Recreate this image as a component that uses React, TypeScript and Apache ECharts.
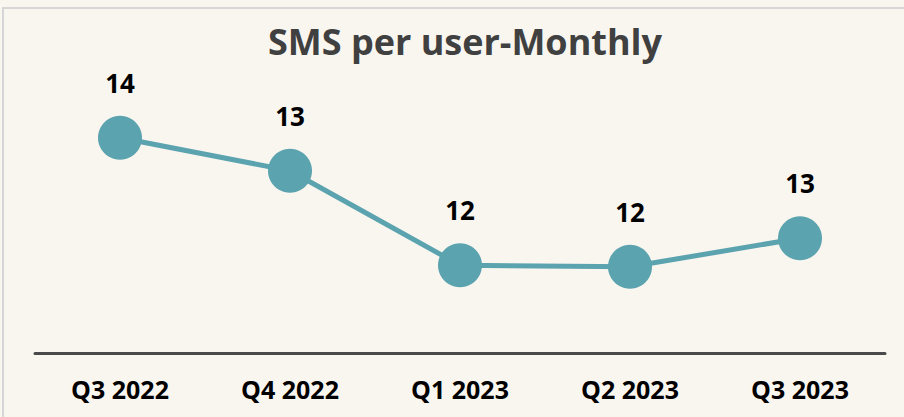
import React, { useEffect, useRef } from "react";
import * as echarts from "echarts";

const categories = ["Q3 2022", "Q4 2022", "Q1 2023", "Q2 2023", "Q3 2023"];
const smsPerUser = [13.87, 13.43, 12.17, 12.15, 12.53];
const titleText = "SMS per user-Monthly";

export default function App() {
  const ref = useRef<HTMLDivElement>(null);
  useEffect(() => {
    const chart = echarts.init(ref.current!, null, { renderer: "svg" });
    chart.setOption({
      animation: false,
      backgroundColor: "#f9f6f0",
      title: {
        text: titleText,
        left: 460,
        top: 18,
        textAlign: "center",
        textStyle: { fontFamily: "Open Sans", fontWeight: "bold", fontSize: 36, color: "#404040" },
      },
      graphic: [
        {
          type: "rect",
          shape: { x: 3, y: 8, width: 920, height: 430 },
          style: { fill: "none", stroke: "#d6d6d6", lineWidth: 2 },
          silent: true,
        },
      ],
      grid: { left: 35, right: 19, top: 53, bottom: 64 },
      xAxis: {
        type: "category",
        data: categories,
        axisLine: { lineStyle: { color: "#4a4a4a", width: 3 } },
        axisTick: { show: false },
        axisLabel: {
          margin: 23,
          fontFamily: "Open Sans",
          fontWeight: "bold",
          fontSize: 25,
          color: "#000000",
        },
      },
      yAxis: {
        type: "value",
        min: 11,
        max: 15,
        show: false,
        splitLine: { show: false },
      },
      series: [
        {
          type: "line",
          data: smsPerUser,
          symbol: "circle",
          symbolSize: 44,
          lineStyle: { color: "#5ba3ae", width: 5 },
          itemStyle: { color: "#5ba3ae" },
          label: {
            show: true,
            position: "top",
            distance: 20,
            formatter: (p: any) => String(Math.round(p.value)),
            fontFamily: "Open Sans",
            fontWeight: "bold",
            fontSize: 26,
            color: "#000000",
          },
        },
      ],
    });
    return () => chart.dispose();
  }, []);
  return (
    <div
      ref={ref}
      style={{ position: "fixed", left: 0, top: 0, width: 904, height: 417 }}
    />
  );
}
